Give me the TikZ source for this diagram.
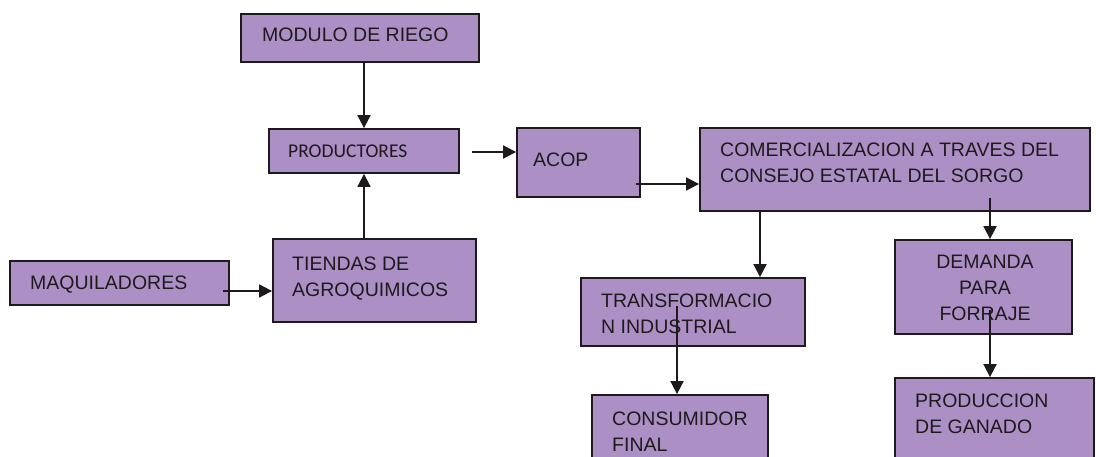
\documentclass[tikz,border=0pt]{standalone}
\usepackage{fontspec}
\setmainfont{Liberation Sans}
\newfontfamily\calib{Carlito}
\usetikzlibrary{arrows.meta}
\definecolor{boxfill}{RGB}{172,144,197}
\definecolor{ink}{RGB}{30,26,28}
\tikzset{
  box/.style={draw=ink, line width=1.8pt, fill=boxfill, inner sep=0pt},
  txt/.style={inner sep=0pt, text=ink, font=\fontsize{19.5}{26}\selectfont, align=left, anchor=base west},
  conn/.style={draw=ink, line width=1.8pt, -{Triangle[length=13pt,width=13pt]}}
}
\begin{document}
\begin{tikzpicture}[x=1pt,y=-1pt]
\useasboundingbox (0,0) rectangle (1096,457);
% boxes
\node[box, minimum width=238pt, minimum height=48pt] (modulo) at (360,38) {};
\node[box, minimum width=190pt, minimum height=44pt] (prod) at (364,151) {};
\node[box, minimum width=123pt, minimum height=69pt] (acop) at (578.5,162.5) {};
\node[box, minimum width=390pt, minimum height=83pt] (comerc) at (895,169.5) {};
\node[box, minimum width=219pt, minimum height=44pt] (maq) at (119.5,283) {};
\node[box, minimum width=203pt, minimum height=83pt] (tiendas) at (374.5,280.5) {};
\node[box, minimum width=224pt, minimum height=68pt] (transf) at (693,312) {};
\node[box, minimum width=176pt, minimum height=70pt] (consum) at (680,430) {};
\node[box, minimum width=177pt, minimum height=94pt] (demanda) at (983.5,287) {};
\node[box, minimum width=199pt, minimum height=86pt] (produc) at (994.5,421) {};
% texts (base = baseline of the last line)
\node[txt] (modulo-t) at (262,42) {MODULO DE RIEGO};
\node[txt, font=\calib\fontsize{19.5}{26}\selectfont] (prod-t) at (288,158) {PRODUCTORES};
\node[txt] (acop-t) at (533,167) {ACOP};
\node[txt] (comerc-t) at (720,183) {COMERCIALIZACION A TRAVES DEL\\CONSEJO ESTATAL DEL SORGO};
\node[txt] (maq-t) at (30,290) {MAQUILADORES};
\node[txt] (tiendas-t) at (292,297) {TIENDAS DE\\AGROQUIMICOS};
\node[txt] (transf-t) at (601,334) {TRANSFORMACIO\\N INDUSTRIAL};
\node[txt] (consum-t) at (612,451) {CONSUMIDOR\\FINAL};
\node[txt, align=center, anchor=base] (demanda-t) at (985,321) {DEMANDA\\PARA\\FORRAJE};
\node[txt] (produc-t) at (915,433) {PRODUCCION\\DE GANADO};
% connector free ends
\coordinate (p1) at (472,152);
\coordinate (p2) at (636,184);
\coordinate (p3) at (223,291);
\coordinate (p4) at (990,198);
\coordinate (p5) at (677,306);
\coordinate (p6) at (990,310);
% connectors
\draw[conn] (modulo.south -| 364,0) -- (prod.north -| 364,0);
\draw[conn] (tiendas.north -| 364,0) -- (prod.south -| 364,0);
\draw[conn] (p1) -- (p1 -| acop.west);
\draw[conn] (p2) -- (p2 -| comerc.west);
\draw[conn] (p3) -- (p3 -| tiendas.west);
\draw[conn] (comerc.south -| 760,0) -- (transf.north -| 760,0);
\draw[conn] (p4) -- (p4 |- demanda.north);
\draw[conn] (p5) -- (p5 |- consum.north);
\draw[conn] (p6) -- (p6 |- produc.north);
\end{tikzpicture}
\end{document}
